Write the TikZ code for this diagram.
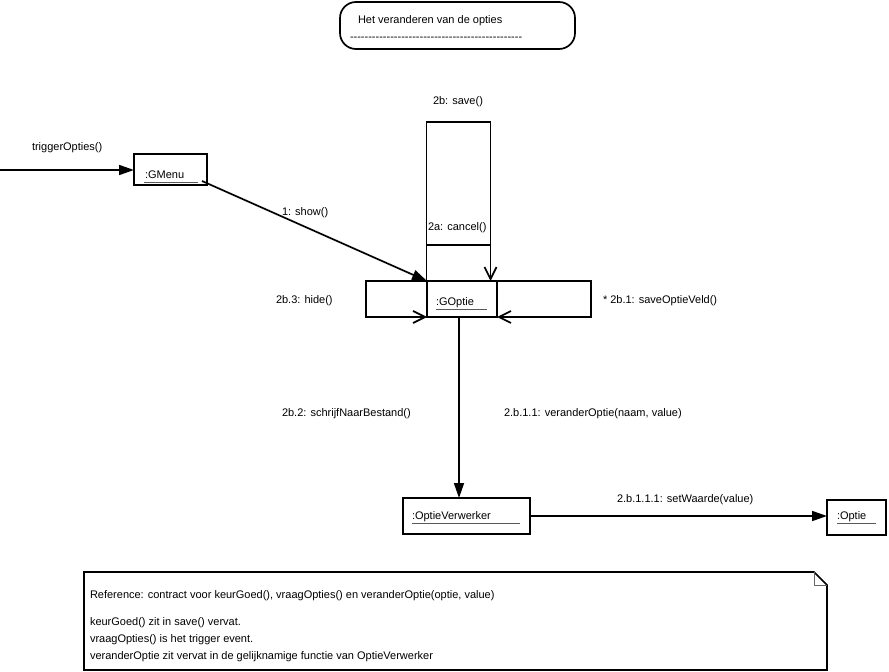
\documentclass[tikz,border=0pt]{standalone}
\usepackage{fontspec}
\setmainfont{Liberation Sans}
\usetikzlibrary{arrows.meta}
\begin{document}
\begin{tikzpicture}[x=1bp,y=-1bp,
  every node/.style={font=\fontsize{11bp}{13bp}\selectfont, inner sep=0pt, outer sep=0pt},
  lbl/.style={anchor=west, yshift=-1.5bp},
  objname/.style={anchor=west, yshift=-0.5bp},
  objbox/.style={draw, line width=1.7bp, anchor=north west, rectangle},
  uline/.style={draw=black!65, line width=1bp},
  msg/.style={line width=1.7bp, -{Triangle[length=15bp,width=10bp]}},
  selfmsg/.style={line width=1.7bp, -{Straight Barb[length=12bp,width=12bp,line width=1.7bp]}},
  plain/.style={line width=1.7bp}
]
\useasboundingbox (0,0) rectangle (889,672);

% title
\node[objbox, rounded corners=16bp, minimum width=235bp, minimum height=47bp] (title) at (340,2) {};
\node[lbl] (ttl) at (358,19) {Het veranderen van de opties};
\node[lbl] (ttldash) at (350,37) {-{}-{}-{}-{}-{}-{}-{}-{}-{}-{}-{}-{}-{}-{}-{}-{}-{}-{}-{}-{}-{}-{}-{}-{}-{}-{}-{}-{}-{}-{}-{}-{}-{}-{}-{}-{}-{}-{}-{}-{}-{}-{}-{}-{}-{}-{}-{}};

% objects
\node[objbox, minimum width=73bp, minimum height=31bp] (gmenu) at (134,154) {};
\node[objname] (tgmenu) at (145,174) {:GMenu};
\draw[uline] (144,182.5) -- (198,182.5);

\node[objbox, minimum width=70bp, minimum height=36bp] (goptie) at (427,281) {};
\node[objname] (tgoptie) at (436,302) {:GOptie};
\draw[uline] (436,309) -- (487,309);

\node[objbox, minimum width=127bp, minimum height=36bp] (ov) at (403,498) {};
\node[objname] (tov) at (412,516) {:OptieVerwerker};
\draw[uline] (412,523.5) -- (520,523.5);

\node[objbox, minimum width=59bp, minimum height=35bp] (optie) at (827,500) {};
\node[objname] (toptie) at (837,516) {:Optie};
\draw[uline] (837,523.5) -- (876,523.5);

% trigger
\coordinate (src) at (0,170);
\draw[msg] (src) -- (gmenu.west |- src);
\node[lbl] (ltrig) at (32,146) {triggerOpties()};

% 1: show()
\draw[msg] ([xshift=-5bp,yshift=4bp]gmenu.south east) -- (goptie.north west);
\node[lbl] (lshow) at (282,211) {1: show()};

% self loops on GOptie
\draw[selfmsg] (goptie.north west) -- ++(-61,0) -- ++(0,36) -- (goptie.south west);
\draw[selfmsg] (goptie.north east) -- ++(94,0) -- ++(0,36) -- (goptie.south east);
\draw[selfmsg] ([xshift=-0.5bp]goptie.north west) -- ++(0,-159) -- ++(64,0) -- ++(0,159);
\draw[plain] ([xshift=-0.5bp]goptie.north west) ++(0,-36) -- ++(64,0);
\node[lbl] (lsave) at (433,100) {2b: save()};
\node[lbl] (lcancel) at (428,226) {2a: cancel()};
\node[lbl] (lhide) at (276,299) {2b.3: hide()};
\node[lbl] (lsov) at (603,299) {* 2b.1: saveOptieVeld()};

% GOptie -> OptieVerwerker
\draw[msg] ([xshift=-3bp]goptie.south) -- ([xshift=-3bp]goptie.south |- ov.north);
\node[lbl] (lsnb) at (282,412) {2b.2: schrijfNaarBestand()};
\node[lbl] (lvo) at (504,412) {2.b.1.1: veranderOptie(naam, value)};

% OptieVerwerker -> Optie
\draw[msg] (ov.east) -- (optie.west |- ov.east);
\node[lbl] (lsw) at (617,498) {2.b.1.1.1: setWaarde(value)};

% note
\draw[plain] (84,572) -- (814,572) -- (827,585) -- (827,670) -- (84,670) -- cycle;
\draw[draw=black!60, line width=1bp] (814,572) -- (814,585) -- (827,585);
\node[lbl] (n1) at (90,594) {Reference: contract voor keurGoed(), vraagOpties() en veranderOptie(optie, value)};
\node[lbl] (n2) at (90,621) {keurGoed() zit in save() vervat.};
\node[lbl] (n3) at (90,638) {vraagOpties() is het trigger event.};
\node[lbl] (n4) at (90,655) {veranderOptie zit vervat in de gelijknamige functie van OptieVerwerker};
\end{tikzpicture}
\end{document}
